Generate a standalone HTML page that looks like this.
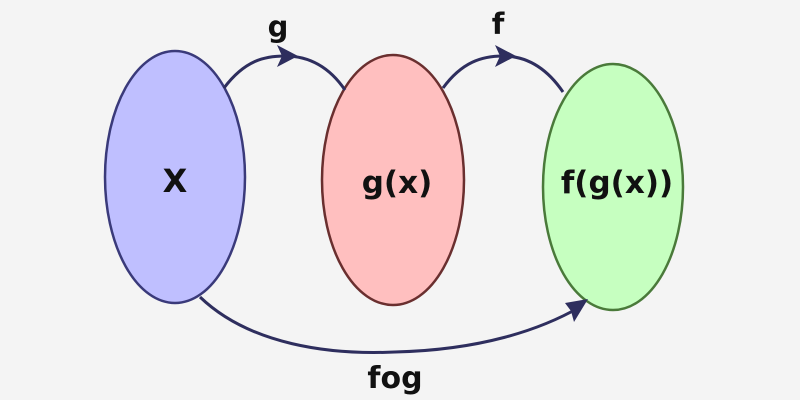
<!DOCTYPE html>
<html><head><meta charset="utf-8"><style>
html,body{margin:0;padding:0;background:#f4f4f4;}
svg{display:block}
text{font-family:"DejaVu Sans","Liberation Sans",sans-serif;fill:#111;font-weight:bold;}
</style></head><body>
<svg width="800" height="400" viewBox="0 0 800 400">
<rect width="800" height="400" fill="#f4f4f4"/>
<ellipse cx="175" cy="177" rx="70" ry="126" fill="#bfbfff" stroke="#3a3a7a" stroke-width="2.5"/>
<ellipse cx="393" cy="180" rx="71" ry="125" fill="#ffbfbf" stroke="#6a2f2f" stroke-width="2.5"/>
<ellipse cx="613" cy="187" rx="70" ry="123" fill="#c6ffc0" stroke="#4a7a3a" stroke-width="2.5"/>
<g fill="none" stroke="#2e2e5e" stroke-width="3">
<path d="M224,88 C245,60 265,56 285,56 C310,56 330,68 345,90"/>
<path d="M443,88 C462,62 482,56 503,56 C528,56 548,70 563,92"/>
<path d="M200,297 C250,345 330,355 395,352 C480,350 540,330 580,307"/>
</g>
<g fill="#2e2e5e">
<polygon points="298,56 277,45 282,56 277,67"/>
<polygon points="516,56 495,45 500,56 495,67"/>
<polygon points="588,299 565,303 571,311 574,322"/>
</g>
<text x="278" y="37" font-size="29" text-anchor="middle">g</text>
<text x="498" y="34" font-size="29" text-anchor="middle">f</text>
<text x="395" y="388" font-size="30" text-anchor="middle">fog</text>
<text x="175" y="192" font-size="32" text-anchor="middle">X</text>
<text x="397" y="193" font-size="31" text-anchor="middle">g(x)</text>
<text x="617" y="193" font-size="31" text-anchor="middle">f(g(x))</text>
</svg>
</body></html>
